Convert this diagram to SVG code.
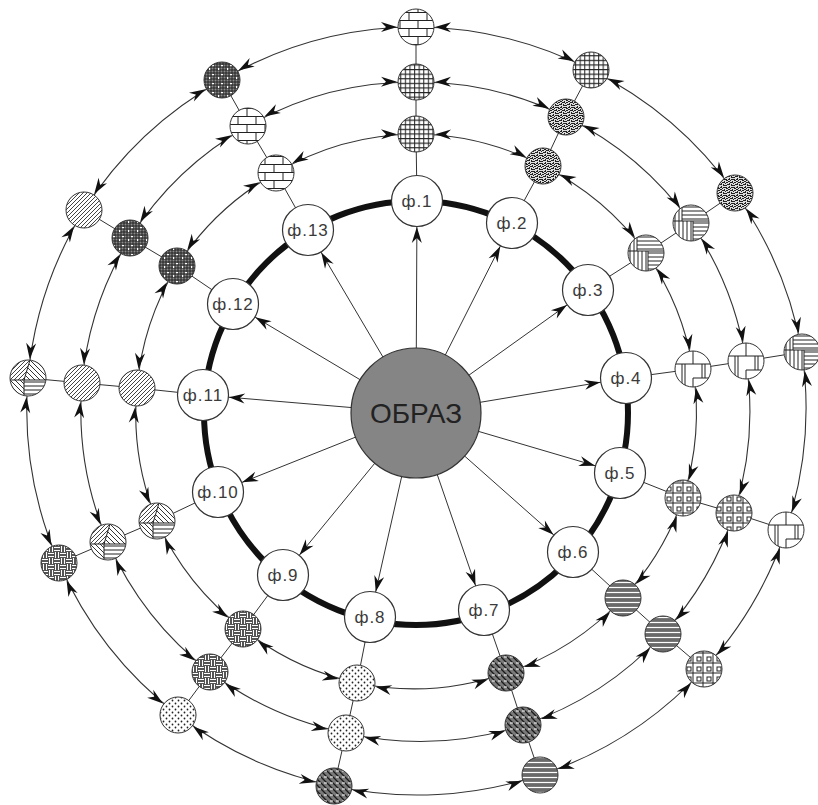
<svg xmlns="http://www.w3.org/2000/svg" width="818" height="805" viewBox="0 0 818 805">
<style>
.thin{stroke:#333;stroke-width:1;fill:none}
.arc{stroke:#333;stroke-width:1.1;fill:none;marker-start:url(#aS);marker-end:url(#aS)}
.ray{stroke:#333;stroke-width:1;fill:none;marker-end:url(#aF)}
.f circle{fill:#fff;stroke:#333;stroke-width:1.2}
.f text{font-family:"Liberation Sans",Arial,sans-serif;font-size:17px;fill:#3a3a3a;text-anchor:middle;dominant-baseline:central;letter-spacing:1px}
.s circle{stroke:#333;stroke-width:1}
.ln{stroke:#222;stroke-width:1;fill:none}
</style>
<defs>
<marker id="aS" markerUnits="userSpaceOnUse" markerWidth="40" markerHeight="20" refX="19" refY="0" orient="auto-start-reverse" overflow="visible"><path d="M0 0L-16 -5L-11 0L-16 5Z" fill="#111"/></marker>
<marker id="aF" markerUnits="userSpaceOnUse" markerWidth="40" markerHeight="20" refX="26" refY="0" orient="auto" overflow="visible"><path d="M0 0L-16 -5L-11 0L-16 5Z" fill="#111"/></marker>
<pattern id="tGrid" patternUnits="userSpaceOnUse" width="4.6" height="4.6"><rect width="4.6" height="4.6" fill="#fff"/><path d="M0 .6H4.6M.6 0V4.6" class="ln"/></pattern>
<pattern id="tH" patternUnits="userSpaceOnUse" width="4" height="4"><rect width="4" height="4" fill="#fff"/><path d="M0 2H4" class="ln"/></pattern>
<pattern id="tV" patternUnits="userSpaceOnUse" width="4" height="4"><rect width="4" height="4" fill="#fff"/><path d="M2 0V4" class="ln"/></pattern>
<pattern id="tStip" patternUnits="userSpaceOnUse" width="8" height="8"><rect width="8" height="8" fill="#ddd"/><path d="M0 0h2v1h-2zM3 0h1v2h-1zM5 1h2v1h-2zM1 2h1v2h-1zM6 3h1v2h-1zM3 3h2v1h-2zM0 5h2v1h-2zM4 5h1v2h-1zM2 6h2v1h-2zM6 6h2v1h-2zM7 0h1v1h-1zM1 7h1v1h-1zM5 3h1v1h-1zM2 4h1v1h-1zM4 1h1v1h-1zM7 4h1v1h-1zM0 3h1v1h-1zM5 7h1v1h-1z" fill="#222"/></pattern>
<pattern id="tDots" patternUnits="userSpaceOnUse" width="6" height="6"><rect width="6" height="6" fill="#fff"/><circle cx="1.5" cy="1.5" r="0.9" fill="#222"/><circle cx="4.5" cy="4.5" r="0.9" fill="#222"/></pattern>
<pattern id="tGrayH" patternUnits="userSpaceOnUse" width="5" height="5"><rect width="5" height="5" fill="#6a6a6a"/><path d="M0 2.5H5" stroke="#fff" stroke-width="1.2"/></pattern>
<pattern id="tDark" patternUnits="userSpaceOnUse" width="6" height="6"><rect width="6" height="6" fill="#7a7a7a"/><path d="M-1 -1L7 7M-1 5L1 7M5 -1L7 1" stroke="#1a1a1a" stroke-width="1.3"/><path d="M0 3H3" stroke="#fff" stroke-width="1"/></pattern>
<pattern id="tWeave" patternUnits="userSpaceOnUse" width="12" height="12"><rect width="12" height="12" fill="#555"/><path d="M0 1.5H6M0 4.5H6M6 7.5H12M6 10.5H12M7.5 0V6M10.5 0V6M1.5 6V12M4.5 6V12" stroke="#fff" stroke-width="1"/></pattern>
<pattern id="tDiag" patternUnits="userSpaceOnUse" width="4" height="4"><rect width="4" height="4" fill="#fff"/><path d="M-1 1L1 -1M0 4L4 0M3 5L5 3" stroke="#444" stroke-width="1"/></pattern>
<pattern id="tDiagB" patternUnits="userSpaceOnUse" width="5" height="5"><rect width="5" height="5" fill="#fff"/><path d="M-1 4L1 6M0 0L5 5M4 -1L6 1" stroke="#333" stroke-width="1"/></pattern>
<pattern id="tCross" patternUnits="userSpaceOnUse" width="9" height="9"><rect width="9" height="9" fill="#8a8a8a"/><path d="M0 1H9M0 4H9M0 7H9M1 0V9M4 0V9M7 0V9" stroke="#1a1a1a" stroke-width="0.9"/><rect x="5" y="2" width="2" height="1.2" fill="#fff"/><rect x="2" y="5" width="1.2" height="2" fill="#fff"/></pattern>
<pattern id="tBrick" patternUnits="userSpaceOnUse" width="18" height="16" x="-9" y="-4"><rect width="18" height="16" fill="#fff"/><path d="M0 .5H18M0 8.5H18M4 .5V8.5M13 8.5V16.5" class="ln"/></pattern>
<pattern id="tSq" patternUnits="userSpaceOnUse" width="10" height="10" x="-5" y="-5"><rect width="10" height="10" fill="#fff"/><rect x="2" y="2" width="4" height="4" fill="none" stroke="#222"/><path d="M8 0V10M0 8H10" class="ln"/></pattern>
<pattern id="pQuad" patternUnits="objectBoundingBox" width="1" height="1" viewBox="0 0 36 36"><rect width="36" height="36" fill="url(#tH)"/><rect x="0" y="16" width="20" height="20" fill="url(#tV)"/><rect x="0" y="0" width="9" height="16" fill="url(#tV)"/><path d="M0 16H36M20 16V36M9 0V16" class="ln"/></pattern>
<pattern id="pWin" patternUnits="objectBoundingBox" width="1" height="1" viewBox="0 0 36 36"><rect width="36" height="36" fill="#fff"/><path d="M0 13H36M18 0V13M7 13V36M10 13V36M27 13V27M30 13V27M18 27H36M18 27V36" class="ln"/></pattern>
<pattern id="pMix" patternUnits="objectBoundingBox" width="1" height="1" viewBox="0 0 36 36"><rect width="36" height="36" fill="#fff"/><polygon points="0,0 20,0 14,20 0,20" fill="url(#tDiag)"/><polygon points="20,0 36,0 36,20 14,20" fill="url(#tDiagB)"/><rect x="14" y="20" width="22" height="16" fill="url(#tH)"/><rect x="0" y="20" width="14" height="16" fill="url(#tDiagB)"/><path d="M20 0L14 20V36M0 20H36" class="ln"/></pattern>
</defs>

<g id="connectors">
<circle cx="416" cy="413" r="212" fill="none" stroke="#111" stroke-width="6"/>
<g id="radials" class="thin">
<polyline points="417,201 416,134 416,82 416,27"/>
<polyline points="512,223 543,166 566,117 591,70"/>
<polyline points="588,290 646,253 691,223 735,193"/>
<polyline points="626,378 693,369 746,361 802,352"/>
<polyline points="620,473 683,498 734,513 786,530"/>
<polyline points="573,552 623,598 663,634 704,669"/>
<polyline points="484,610 506,673 523,725 540,775"/>
<polyline points="370,617 357,683 346,733 334,786"/>
<polyline points="283,575 243,629 210,672 178,715"/>
<polyline points="218,492 157,521 108,542 59,563"/>
<polyline points="203,395 137,388 82,383 28,378"/>
<polyline points="233,304 177,266 130,238 84,210"/>
<polyline points="308,230 276,173 248,126 222,80"/>
</g>
<g id="rays">
<path class="ray" d="M416 413L417 201"/>
<path class="ray" d="M416 413L512 223"/>
<path class="ray" d="M416 413L588 290"/>
<path class="ray" d="M416 413L626 378"/>
<path class="ray" d="M416 413L620 473"/>
<path class="ray" d="M416 413L573 552"/>
<path class="ray" d="M416 413L484 610"/>
<path class="ray" d="M416 413L370 617"/>
<path class="ray" d="M416 413L283 575"/>
<path class="ray" d="M416 413L218 492"/>
<path class="ray" d="M416 413L203 395"/>
<path class="ray" d="M416 413L233 304"/>
<path class="ray" d="M416 413L308 230"/>
</g>
<g id="ring1arcs">
<path class="arc" d="M416 134A280 280 0 0 1 543 166"/>
<path class="arc" d="M543 166A280 280 0 0 1 646 253"/>
<path class="arc" d="M646 253A280 280 0 0 1 693 369"/>
<path class="arc" d="M693 369A280 280 0 0 1 683 498"/>
<path class="arc" d="M683 498A280 280 0 0 1 623 598"/>
<path class="arc" d="M623 598A280 280 0 0 1 506 673"/>
<path class="arc" d="M506 673A280 280 0 0 1 357 683"/>
<path class="arc" d="M357 683A280 280 0 0 1 243 629"/>
<path class="arc" d="M243 629A280 280 0 0 1 157 521"/>
<path class="arc" d="M157 521A280 280 0 0 1 137 388"/>
<path class="arc" d="M137 388A280 280 0 0 1 177 266"/>
<path class="arc" d="M177 266A280 280 0 0 1 276 173"/>
<path class="arc" d="M276 173A280 280 0 0 1 416 134"/>
</g>
<g id="ring2arcs">
<path class="arc" d="M416 82A333 333 0 0 1 566 117"/>
<path class="arc" d="M566 117A333 333 0 0 1 691 223"/>
<path class="arc" d="M691 223A333 333 0 0 1 746 361"/>
<path class="arc" d="M746 361A333 333 0 0 1 734 513"/>
<path class="arc" d="M734 513A333 333 0 0 1 663 634"/>
<path class="arc" d="M663 634A333 333 0 0 1 523 725"/>
<path class="arc" d="M523 725A333 333 0 0 1 346 733"/>
<path class="arc" d="M346 733A333 333 0 0 1 210 672"/>
<path class="arc" d="M210 672A333 333 0 0 1 108 542"/>
<path class="arc" d="M108 542A333 333 0 0 1 82 383"/>
<path class="arc" d="M82 383A333 333 0 0 1 130 238"/>
<path class="arc" d="M130 238A333 333 0 0 1 248 126"/>
<path class="arc" d="M248 126A333 333 0 0 1 416 82"/>
</g>
<g id="ring3arcs">
<path class="arc" d="M416 27A386 386 0 0 1 591 70"/>
<path class="arc" d="M591 70A386 386 0 0 1 735 193"/>
<path class="arc" d="M735 193A386 386 0 0 1 802 352"/>
<path class="arc" d="M802 352A386 386 0 0 1 786 530"/>
<path class="arc" d="M786 530A386 386 0 0 1 704 669"/>
<path class="arc" d="M704 669A386 386 0 0 1 540 775"/>
<path class="arc" d="M540 775A386 386 0 0 1 334 786"/>
<path class="arc" d="M334 786A386 386 0 0 1 178 715"/>
<path class="arc" d="M178 715A386 386 0 0 1 59 563"/>
<path class="arc" d="M59 563A386 386 0 0 1 28 378"/>
<path class="arc" d="M28 378A386 386 0 0 1 84 210"/>
<path class="arc" d="M84 210A386 386 0 0 1 222 80"/>
<path class="arc" d="M222 80A386 386 0 0 1 416 27"/>
</g>
</g>

<g id="center"><circle cx="416" cy="413" r="65" fill="#858585" stroke="#333" stroke-width="1.2"/><text x="416" y="413" font-family="Liberation Sans, Arial, sans-serif" font-size="28" fill="#222" text-anchor="middle" dominant-baseline="central">ОБРАЗ</text></g>

<g id="f1" class="f"><circle cx="417" cy="201" r="25.5"/><text x="417" y="201">ф.1</text></g>
<g id="f2" class="f"><circle cx="512" cy="223" r="25.5"/><text x="512" y="223">ф.2</text></g>
<g id="f3" class="f"><circle cx="588" cy="290" r="25.5"/><text x="588" y="290">ф.3</text></g>
<g id="f4" class="f"><circle cx="626" cy="378" r="25.5"/><text x="626" y="378">ф.4</text></g>
<g id="f5" class="f"><circle cx="620" cy="473" r="25.5"/><text x="620" y="473">ф.5</text></g>
<g id="f6" class="f"><circle cx="573" cy="552" r="25.5"/><text x="573" y="552">ф.6</text></g>
<g id="f7" class="f"><circle cx="484" cy="610" r="25.5"/><text x="484" y="610">ф.7</text></g>
<g id="f8" class="f"><circle cx="370" cy="617" r="25.5"/><text x="370" y="617">ф.8</text></g>
<g id="f9" class="f"><circle cx="283" cy="575" r="25.5"/><text x="283" y="575">ф.9</text></g>
<g id="f10" class="f"><circle cx="218" cy="492" r="25.5"/><text x="218" y="492">ф.10</text></g>
<g id="f11" class="f"><circle cx="203" cy="395" r="25.5"/><text x="203" y="395">ф.11</text></g>
<g id="f12" class="f"><circle cx="233" cy="304" r="25.5"/><text x="233" y="304">ф.12</text></g>
<g id="f13" class="f"><circle cx="308" cy="230" r="25.5"/><text x="308" y="230">ф.13</text></g>

<g id="s1a" class="s"><circle cx="416" cy="134" r="18" fill="url(#tGrid)"/></g>
<g id="s1b" class="s"><circle cx="416" cy="82" r="18" fill="url(#tGrid)"/></g>
<g id="s1c" class="s"><circle cx="416" cy="27" r="18" fill="url(#tBrick)"/></g>
<g id="s2a" class="s"><circle cx="543" cy="166" r="18" fill="url(#tStip)"/></g>
<g id="s2b" class="s"><circle cx="566" cy="117" r="18" fill="url(#tStip)"/></g>
<g id="s2c" class="s"><circle cx="591" cy="70" r="18" fill="url(#tGrid)"/></g>
<g id="s3a" class="s"><circle cx="646" cy="253" r="18" fill="url(#pQuad)"/></g>
<g id="s3b" class="s"><circle cx="691" cy="223" r="18" fill="url(#pQuad)"/></g>
<g id="s3c" class="s"><circle cx="735" cy="193" r="18" fill="url(#tStip)"/></g>
<g id="s4a" class="s"><circle cx="693" cy="369" r="18" fill="url(#pWin)"/></g>
<g id="s4b" class="s"><circle cx="746" cy="361" r="18" fill="url(#pWin)"/></g>
<g id="s4c" class="s"><circle cx="802" cy="352" r="18" fill="url(#pQuad)"/></g>
<g id="s5a" class="s"><circle cx="683" cy="498" r="18" fill="url(#tSq)"/></g>
<g id="s5b" class="s"><circle cx="734" cy="513" r="18" fill="url(#tSq)"/></g>
<g id="s5c" class="s"><circle cx="786" cy="530" r="18" fill="url(#pWin)"/></g>
<g id="s6a" class="s"><circle cx="623" cy="598" r="18" fill="url(#tGrayH)"/></g>
<g id="s6b" class="s"><circle cx="663" cy="634" r="18" fill="url(#tGrayH)"/></g>
<g id="s6c" class="s"><circle cx="704" cy="669" r="18" fill="url(#tSq)"/></g>
<g id="s7a" class="s"><circle cx="506" cy="673" r="18" fill="url(#tDark)"/></g>
<g id="s7b" class="s"><circle cx="523" cy="725" r="18" fill="url(#tDark)"/></g>
<g id="s7c" class="s"><circle cx="540" cy="775" r="18" fill="url(#tGrayH)"/></g>
<g id="s8a" class="s"><circle cx="357" cy="683" r="18" fill="url(#tDots)"/></g>
<g id="s8b" class="s"><circle cx="346" cy="733" r="18" fill="url(#tDots)"/></g>
<g id="s8c" class="s"><circle cx="334" cy="786" r="18" fill="url(#tDark)"/></g>
<g id="s9a" class="s"><circle cx="243" cy="629" r="18" fill="url(#tWeave)"/></g>
<g id="s9b" class="s"><circle cx="210" cy="672" r="18" fill="url(#tWeave)"/></g>
<g id="s9c" class="s"><circle cx="178" cy="715" r="18" fill="url(#tDots)"/></g>
<g id="s10a" class="s"><circle cx="157" cy="521" r="18" fill="url(#pMix)"/></g>
<g id="s10b" class="s"><circle cx="108" cy="542" r="18" fill="url(#pMix)"/></g>
<g id="s10c" class="s"><circle cx="59" cy="563" r="18" fill="url(#tWeave)"/></g>
<g id="s11a" class="s"><circle cx="137" cy="388" r="18" fill="url(#tDiag)"/></g>
<g id="s11b" class="s"><circle cx="82" cy="383" r="18" fill="url(#tDiag)"/></g>
<g id="s11c" class="s"><circle cx="28" cy="378" r="18" fill="url(#pMix)"/></g>
<g id="s12a" class="s"><circle cx="177" cy="266" r="18" fill="url(#tCross)"/></g>
<g id="s12b" class="s"><circle cx="130" cy="238" r="18" fill="url(#tCross)"/></g>
<g id="s12c" class="s"><circle cx="84" cy="210" r="18" fill="url(#tDiag)"/></g>
<g id="s13a" class="s"><circle cx="276" cy="173" r="18" fill="url(#tBrick)"/></g>
<g id="s13b" class="s"><circle cx="248" cy="126" r="18" fill="url(#tBrick)"/></g>
<g id="s13c" class="s"><circle cx="222" cy="80" r="18" fill="url(#tCross)"/></g>
</svg>
